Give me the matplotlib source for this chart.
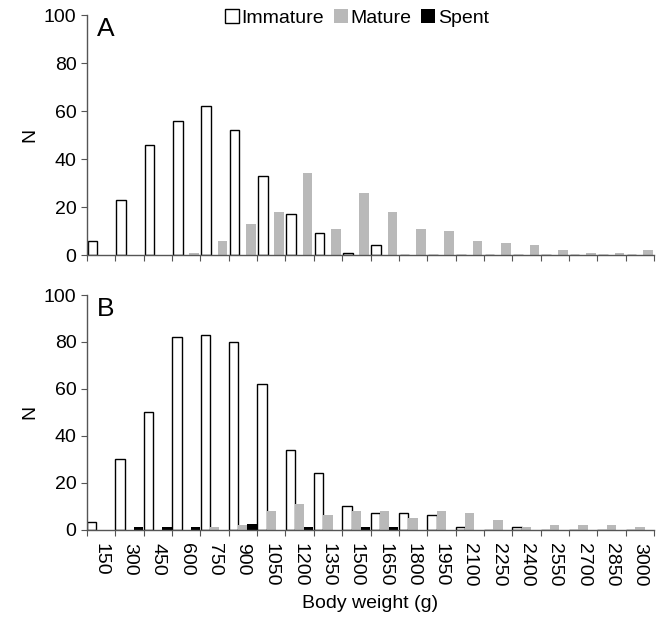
import numpy as np
import matplotlib
matplotlib.use("Agg")
import matplotlib.pyplot as plt
from matplotlib.patches import Patch

plt.rcParams['font.family'] = ['Liberation Sans', 'DejaVu Sans']

# weight classes (g)
weights = [150, 300, 450, 600, 750, 900, 1050, 1200, 1350, 1500,
           1650, 1800, 1950, 2100, 2250, 2400, 2550, 2700, 2850, 3000]

# Panel A
a_immature = [6, 23, 46, 56, 62, 52, 33, 17, 9, 1, 4, 0, 0, 0, 0, 0, 0, 0, 0, 0]
a_mature = [0, 0, 0, 1, 6, 13, 18, 34, 11, 26, 18, 11, 10, 6, 5, 4, 2, 1, 1, 2]

# Panel B
b_immature = [3, 30, 50, 82, 83, 80, 62, 34, 24, 10, 7, 7, 6, 1, 0, 1, 0, 0, 0, 0]
b_mature = [0, 0, 0, 0, 1, 2, 8, 11, 6, 8, 8, 5, 8, 7, 4, 1, 2, 2, 2, 1]
b_spent = [0, 1, 1, 1, 0, 2.5, 0, 1, 0, 1, 1, 0, 0, 0, 0, 0, 0, 0, 0, 0]

GREY = '#b9b9b9'
AXC = '#555555'
FS = 14

fig = plt.figure(figsize=(6.61, 6.19), dpi=100)
ax_a = fig.add_axes([87 / 661, 1 - 255 / 619, 567 / 661, 240 / 619])
ax_b = fig.add_axes([87 / 661, 1 - 529.5 / 619, 567 / 661, 234.5 / 619])

x = np.arange(len(weights))
w = 0.34


def style_axis(ax):
    ax.set_xlim(0, len(weights))
    ax.set_ylim(0, 100)
    ax.set_yticks([0, 20, 40, 60, 80, 100])
    ax.set_xticks(np.arange(len(weights) + 1))
    ax.set_xticks(x + 0.5, minor=True)
    for s in ['top', 'right']:
        ax.spines[s].set_visible(False)
    for s in ['left', 'bottom']:
        ax.spines[s].set_color(AXC)
        ax.spines[s].set_linewidth(1.0)
    ax.tick_params(axis='both', which='major', direction='out', length=4,
                   color=AXC, labelsize=FS)
    ax.tick_params(axis='x', which='major', labelbottom=False)
    ax.tick_params(axis='x', which='minor', length=0)
    ax.set_ylabel('N', fontsize=FS, labelpad=4)


# Panel A
ax_a.bar(x + 0.2, a_immature, w, color='white', edgecolor='black', linewidth=1.0)
ax_a.bar(x + 0.78, a_mature, w, color=GREY, edgecolor='none')
style_axis(ax_a)
ax_a.tick_params(axis='x', which='minor', labelbottom=False)
ax_a.text(0.018, 0.99, 'A', transform=ax_a.transAxes, fontsize=19,
          ha='left', va='top')

# Panel B
ax_b.bar(x + 0.17, b_immature, 0.33, color='white', edgecolor='black', linewidth=1.0)
ax_b.bar(x + 0.5, b_mature, 0.33, color=GREY, edgecolor='none')
ax_b.bar(x + 0.82, b_spent, 0.33, color='black', edgecolor='none')
style_axis(ax_b)
ax_b.set_xticklabels([str(v) for v in weights], minor=True, rotation=270,
                     fontsize=FS)
ax_b.tick_params(axis='x', which='minor', pad=10)
ax_b.text(0.018, 0.99, 'B', transform=ax_b.transAxes, fontsize=19,
          ha='left', va='top')
ax_b.set_xlabel('Body weight (g)', fontsize=FS, labelpad=6)

handles = [Patch(facecolor='white', edgecolor='black', linewidth=1.0, label='Immature'),
           Patch(facecolor=GREY, edgecolor='none', label='Mature'),
           Patch(facecolor='black', edgecolor='none', label='Spent')]
fig.legend(handles=handles, loc='center', bbox_to_anchor=(357 / 661, 1 - 18 / 619),
           ncol=3, frameon=False, fontsize=FS, handlelength=0.7,
           handleheight=0.7, handletextpad=0.15, columnspacing=0.5,
           borderpad=0)

fig.savefig('out.png', dpi=100)
